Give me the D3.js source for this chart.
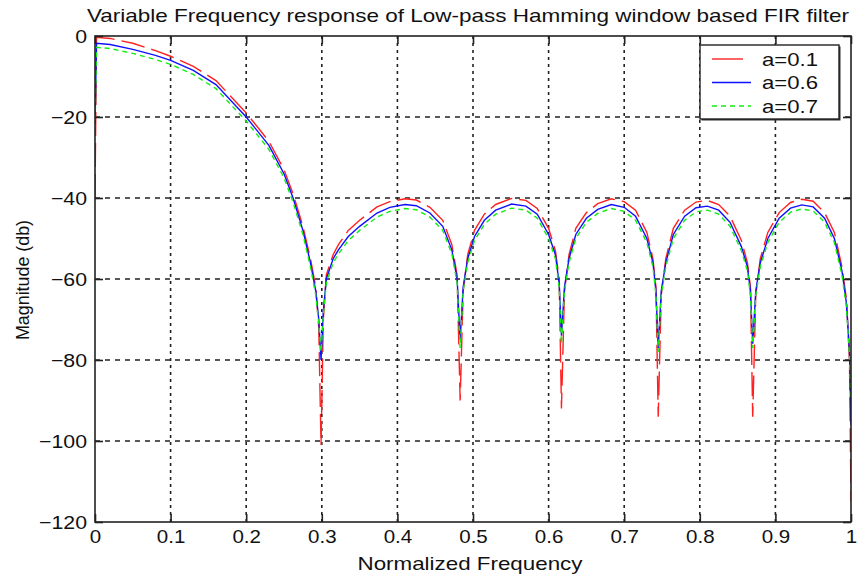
<!DOCTYPE html>
<html>
<head>
<meta charset="utf-8">
<script src="https://cdn.jsdelivr.net/npm/d3@7"></script>
<style>
  body { margin: 0; background: #fff; }
  text { font-family: "Liberation Sans", Arial, sans-serif; fill: #111; }
</style>
</head>
<body>
<div id="chart"></div>
<script>
// normalized frequency samples
var freq = [
  0, 0.002, 0.02, 0.05, 0.08, 0.1, 0.13, 0.16, 0.2, 0.23,
  0.25, 0.262, 0.275, 0.285, 0.292, 0.296, 0.299, 0.302, 0.306, 0.315,
  0.322, 0.335, 0.35, 0.373, 0.39, 0.41, 0.425, 0.443, 0.46, 0.472,
  0.479, 0.483, 0.487, 0.493, 0.502, 0.515, 0.53, 0.551, 0.57, 0.585,
  0.6, 0.609, 0.614, 0.617, 0.621, 0.627, 0.636, 0.65, 0.665, 0.683,
  0.7, 0.715, 0.73, 0.738, 0.742, 0.745, 0.749, 0.755, 0.765, 0.78,
  0.795, 0.81, 0.825, 0.84, 0.855, 0.863, 0.867, 0.87, 0.874, 0.88,
  0.89, 0.905, 0.92, 0.935, 0.95, 0.965, 0.978, 0.988, 0.994, 0.998,
  1.0
];

// a=0.1
var magA01 = [
  -40, -0.3, -0.6, -1.8, -3.6, -5, -7.5, -11, -19, -26,
  -33, -39, -47, -55, -62, -72, -101, -70, -59, -54,
  -51.5, -48, -45.5, -42.2, -40.9, -40.2, -40.5, -42.3, -45.5, -51.5,
  -59, -90, -63, -54, -48, -44, -41.6, -40.1, -40.6, -42.6,
  -47.5, -53, -60, -92, -63, -54, -47.5, -43.6, -41.4, -40.2,
  -40.9, -43, -48.5, -55, -62, -94, -64, -55, -47.5, -43,
  -41, -40.6, -41.6, -44.5, -50.5, -56, -62, -94, -64, -55,
  -48.5, -43.6, -41.1, -40.3, -40.8, -43.6, -48.5, -57, -65, -80,
  -115
];

// a=0.6
var magA06 = [
  -22, -1.8, -2.1, -3.3, -4.8, -6, -8.5, -12, -20, -27,
  -34, -40, -48, -56, -63, -70, -80, -68, -60, -55,
  -52.8, -49.5, -47, -43.7, -42.3, -41.6, -41.9, -43.7, -47, -52.8,
  -60, -75, -62, -55, -49.5, -45.5, -43, -41.5, -42, -44,
  -49, -54, -61, -74, -62, -55, -49, -45, -42.8, -41.6,
  -42.3, -44.5, -50, -56, -63, -77, -63, -56, -49, -44.5,
  -42.4, -42, -43, -46, -52, -57, -63, -76, -63, -56,
  -50, -45, -42.5, -41.7, -42.2, -45, -50, -58, -66, -78,
  -96
];

// a=0.7
var magA07 = [
  -23, -2.8, -3.1, -4.3, -5.8, -7, -9.5, -13, -21, -28,
  -35, -41, -49, -57, -64, -71, -78, -69, -61, -56,
  -53.8, -50.5, -48, -44.7, -43.3, -42.6, -42.9, -44.7, -48, -53.8,
  -61, -77, -63, -56, -50.5, -46.5, -44, -42.5, -43, -45,
  -50, -55, -62, -76, -63, -56, -50, -46, -43.8, -42.6,
  -43.3, -45.5, -51, -57, -64, -78, -64, -57, -50, -45.5,
  -43.4, -43, -44, -47, -53, -58, -64, -77, -64, -57,
  -51, -46, -43.5, -42.7, -43.2, -46, -51, -59, -67, -79,
  -90
];

var xTicks = [0, 0.1, 0.2, 0.3, 0.4, 0.5, 0.6, 0.7, 0.8, 0.9, 1];
var yTicks = [0, -20, -40, -60, -80, -100, -120];
var seriesNames = ["a=0.1", "a=0.6", "a=0.7"];

var width = 858, height = 577;
var pL = 95, pR = 851, pT = 36, pB = 522;

var svg = d3.select('#chart').append('svg')
    .attr('width', width)
    .attr('height', height);

var x = d3.scaleLinear().domain([0, 1]).range([pL, pR]);
var y = d3.scaleLinear().domain([-120, 0]).range([pB, pT]);

// text in the picture is a bit wider than Arial, so stretch it
function stretch(sel, factor) {
    sel.each(function () {
        var w = this.getComputedTextLength();
        d3.select(this).attr('textLength', w * factor).attr('lengthAdjust', 'spacingAndGlyphs');
    });
}

// grid
svg.append('g').selectAll('line')
    .data(xTicks.slice(1, -1))
    .enter().append('line')
    .attr('x1', function (d) { return x(d); })
    .attr('x2', function (d) { return x(d); })
    .attr('y1', pT).attr('y2', pB)
    .attr('stroke', '#222').attr('stroke-width', 1.6)
    .attr('stroke-dasharray', '3,4');

svg.append('g').selectAll('line')
    .data(yTicks.slice(1, -1))
    .enter().append('line')
    .attr('y1', function (d) { return y(d); })
    .attr('y2', function (d) { return y(d); })
    .attr('x1', pL).attr('x2', pR)
    .attr('stroke', '#222').attr('stroke-width', 1.6)
    .attr('stroke-dasharray', '5,5');

// curves
var series = [
    { name: seriesNames[0], values: magA01, color: '#ff2020', dash: '24,7' },
    { name: seriesNames[1], values: magA06, color: '#1010ff', dash: null },
    { name: seriesNames[2], values: magA07, color: '#10ee10', dash: '5,4' }
];

var line = d3.line()
    .x(function (d) { return x(d[0]); })
    .y(function (d) { return y(d[1]); });

svg.append('defs').append('clipPath').attr('id', 'clip')
    .append('rect')
    .attr('x', pL).attr('y', pT)
    .attr('width', pR - pL).attr('height', pB - pT);

var plot = svg.append('g').attr('clip-path', 'url(#clip)');
series.forEach(function (s) {
    plot.append('path')
        .datum(freq.map(function (f, i) { return [f, s.values[i]]; }))
        .attr('d', line)
        .attr('fill', 'none')
        .attr('stroke', s.color)
        .attr('stroke-width', 1.4)
        .attr('stroke-dasharray', s.dash);
});

// axes with inward ticks
var xAxis = svg.append('g')
    .attr('transform', `translate(0, ${pB})`)
    .call(d3.axisBottom(x).tickValues(xTicks).tickFormat(d3.format('')).tickSizeInner(-8).tickSizeOuter(0).tickPadding(8));
var xAxisTop = svg.append('g')
    .attr('transform', `translate(0, ${pT})`)
    .call(d3.axisTop(x).tickValues(xTicks).tickFormat('').tickSizeInner(-8).tickSizeOuter(0));
var yAxis = svg.append('g')
    .attr('transform', `translate(${pL}, 0)`)
    .call(d3.axisLeft(y).tickValues(yTicks).tickFormat(d3.format('')).tickSizeInner(-8).tickSizeOuter(0).tickPadding(8));
var yAxisRight = svg.append('g')
    .attr('transform', `translate(${pR}, 0)`)
    .call(d3.axisRight(y).tickValues(yTicks).tickFormat('').tickSizeInner(-8).tickSizeOuter(0));

[xAxis, xAxisTop, yAxis, yAxisRight].forEach(function (a) {
    a.select('.domain').remove();
    a.selectAll('line').attr('stroke', '#222').attr('stroke-width', 1.6);
    a.selectAll('text').style('font-size', '19px').attr('fill', '#111');
});
xAxis.selectAll('text').attr('dy', '0.71em').attr('y', 8);
yAxis.selectAll('text').attr('x', -8);
stretch(xAxis.selectAll('text'), 1.08);
stretch(yAxis.selectAll('text'), 1.12);

// frame
svg.append('rect')
    .attr('x', pL).attr('y', pT)
    .attr('width', pR - pL).attr('height', pB - pT)
    .attr('fill', 'none').attr('stroke', '#222').attr('stroke-width', 1.6);

// legend
var lg = svg.append('g').attr('transform', 'translate(700, 45)');
lg.append('rect')
    .attr('x', 1.5).attr('y', 1.5).attr('width', 139).attr('height', 74)
    .attr('fill', '#333');
lg.append('rect')
    .attr('width', 139).attr('height', 74)
    .attr('fill', '#fff').attr('stroke', '#222').attr('stroke-width', 1.4);
series.forEach(function (s, i) {
    var yy = 14 + i * 23.5;
    lg.append('line')
        .attr('x1', 12).attr('x2', i == 0 ? 43 : 51)
        .attr('y1', yy).attr('y2', yy)
        .attr('stroke', s.color).attr('stroke-width', 1.4)
        .attr('stroke-dasharray', i == 2 ? '5,4' : null);
    lg.append('text')
        .attr('x', 62).attr('y', yy)
        .attr('dy', '0.35em')
        .style('font-size', '19px')
        .attr('textLength', 56).attr('lengthAdjust', 'spacingAndGlyphs')
        .text(s.name);
});

// titles
svg.append('text')
    .attr('x', 468).attr('y', 15)
    .attr('dy', '0.35em')
    .attr('text-anchor', 'middle')
    .style('font-size', '19px')
    .attr('textLength', 762).attr('lengthAdjust', 'spacingAndGlyphs')
    .text('Variable Frequency response of Low-pass Hamming window based FIR filter');

svg.append('text')
    .attr('x', 470).attr('y', 563)
    .attr('dy', '0.35em')
    .attr('text-anchor', 'middle')
    .style('font-size', '19px')
    .attr('textLength', 225).attr('lengthAdjust', 'spacingAndGlyphs')
    .text('Normalized Frequency');

svg.append('text')
    .attr('transform', 'translate(23, 280) rotate(-90)')
    .attr('dy', '0.35em')
    .attr('text-anchor', 'middle')
    .style('font-size', '18px')
    .attr('textLength', 120).attr('lengthAdjust', 'spacingAndGlyphs')
    .text('Magnitude (db)');
</script>
</body>
</html>
